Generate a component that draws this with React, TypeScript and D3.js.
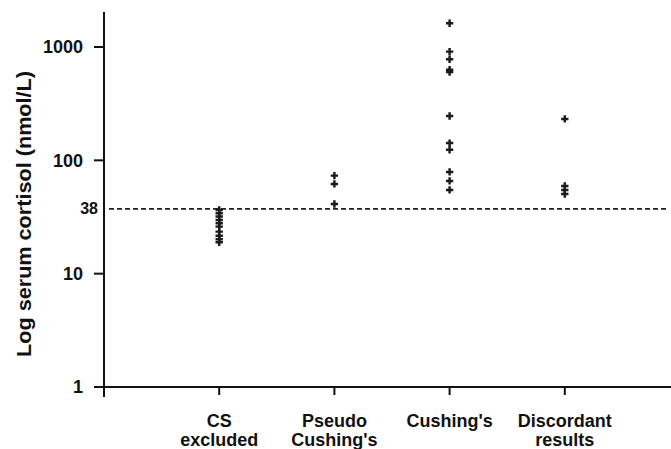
import React from "react";
import * as d3 from "d3";

const categories = ["CS excluded", "Pseudo Cushing's", "Cushing's", "Discordant results"];
const categoryLines = [["CS", "excluded"], ["Pseudo", "Cushing's"], ["Cushing's"], ["Discordant", "results"]];
const csExcluded = [36.5, 34.1, 31.9, 29.8, 27.9, 26.0, 23.5, 21.6, 20.1, 18.9];
const pseudoCushings = [73.3, 61.9, 41.2];
const cushings = [1620, 910, 780, 630, 600, 246, 142, 124, 79, 65.8, 54.8];
const discordant = [232, 59.4, 54.8, 50.5];
const seriesValues = [csExcluded, pseudoCushings, cushings, discordant];
const yTicks = [1, 10, 100, 1000];
const cutoff = 38;
const yLabel = "Log serum cortisol (nmol/L)";

const W = 671;
const H = 449;
const axisX = 104;
const font = "'Liberation Sans', Arial, Helvetica, sans-serif";

export default function App() {
  const y = d3.scaleLog().domain([1, 1000]).range([387, 47]);
  const x = d3.scalePoint<string>().domain(categories).range([axisX, 680]).padding(1);
  const cross = d3.symbol().type(d3.symbolCross).size(30)();
  const yTop = y(2040);
  const yBottom = y(1);

  return (
    <svg width={W} height={H} style={{ position: "absolute", left: 0, top: 0, background: "#fff" }}>
      {/* dashed cutoff line */}
      <line x1={axisX + 5} x2={666} y1={y(cutoff) + 1} y2={y(cutoff) + 1} stroke="#222" strokeWidth={1.8} strokeDasharray="5,3" />
      <text x={98} y={y(cutoff)} dy="0.36em" textAnchor="end" fontFamily={font} fontWeight="bold" fontSize={16} fill="#111">
        {cutoff}
      </text>
      {/* y axis */}
      <line x1={axisX} x2={axisX} y1={yTop} y2={yBottom + 10} stroke="#111" strokeWidth={2} />
      {yTicks.map((t) => (
        <g key={t}>
          <line x1={axisX - 10} x2={axisX} y1={y(t)} y2={y(t)} stroke="#111" strokeWidth={2} />
          <text x={83} y={y(t)} dy="0.36em" textAnchor="end" fontFamily={font} fontWeight="bold" fontSize={18} fill="#111">
            {t}
          </text>
        </g>
      ))}
      {/* x axis */}
      <line x1={axisX} x2={W} y1={yBottom} y2={yBottom} stroke="#111" strokeWidth={2} />
      {categories.map((c, i) => (
        <g key={c}>
          <line x1={x(c)} x2={x(c)} y1={yBottom} y2={yBottom + 8} stroke="#111" strokeWidth={2} />
          {categoryLines[i].map((ln, j) => (
            <text key={j} x={x(c)} y={427 + j * 19} textAnchor="middle" fontFamily={font} fontWeight="bold" fontSize={18} fill="#111">
              {ln}
            </text>
          ))}
        </g>
      ))}
      {/* y label */}
      <text
        transform={`translate(24, 214) rotate(-90)`}
        textAnchor="middle"
        dy="0.36em"
        fontFamily={font}
        fontWeight="bold"
        fontSize={20}
        textLength={286}
        lengthAdjust="spacingAndGlyphs"
        fill="#111"
      >
        {yLabel}
      </text>
      {/* points */}
      {seriesValues.map((vals, i) =>
        vals.map((v, j) => (
          <path key={`${i}-${j}`} d={cross ?? ""} transform={`translate(${x(categories[i])},${y(v)})`} fill="#1a1a1a" />
        ))
      )}
    </svg>
  );
}
